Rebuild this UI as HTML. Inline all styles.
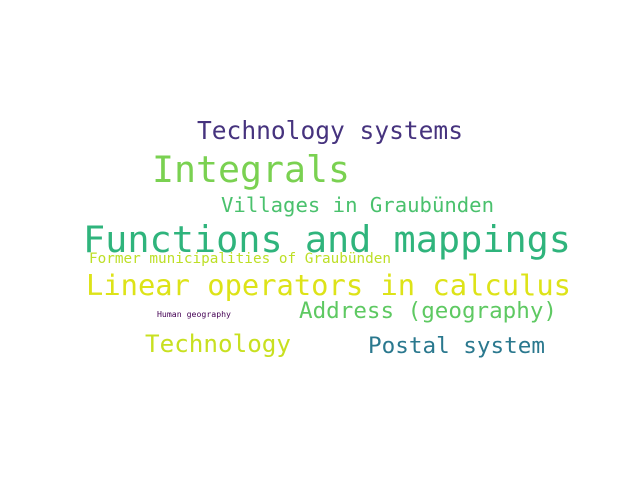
<!DOCTYPE html>
<html><head><meta charset="utf-8"><style>html,body{margin:0;background:#fff}svg{display:block}</style></head>
<body>
<svg width="640" height="480" font-family="'DejaVu Sans Mono', 'Liberation Mono', monospace">
<text x="197" y="139" font-size="24.5" fill="#46337e" textLength="266" lengthAdjust="spacingAndGlyphs">Technology systems</text>
<text x="152" y="182" font-size="36.5" fill="#7ad151" textLength="198" lengthAdjust="spacingAndGlyphs">Integrals</text>
<text x="221" y="212" font-size="20.6" fill="#4ac16d" textLength="273" lengthAdjust="spacingAndGlyphs">Villages in Graubünden</text>
<text x="83" y="252" font-size="36.8" fill="#2fb47c" textLength="488" lengthAdjust="spacingAndGlyphs">Functions and mappings</text>
<text x="89" y="263" font-size="14.3" fill="#bddf26" textLength="302" lengthAdjust="spacingAndGlyphs">Former municipalities of Graubünden</text>
<text x="86" y="295" font-size="28.8" fill="#dde318" textLength="485" lengthAdjust="spacingAndGlyphs">Linear operators in calculus</text>
<text x="299" y="318" font-size="22.5" fill="#5ec962" textLength="258" lengthAdjust="spacingAndGlyphs">Address (geography)</text>
<text x="157" y="317" font-size="8.2" fill="#440154" textLength="74" lengthAdjust="spacingAndGlyphs">Human geography</text>
<text x="145" y="352" font-size="24.2" fill="#c8e020" textLength="146" lengthAdjust="spacingAndGlyphs">Technology</text>
<text x="368" y="353" font-size="22.6" fill="#2a788e" textLength="177" lengthAdjust="spacingAndGlyphs">Postal system</text>
</svg>
</body></html>
